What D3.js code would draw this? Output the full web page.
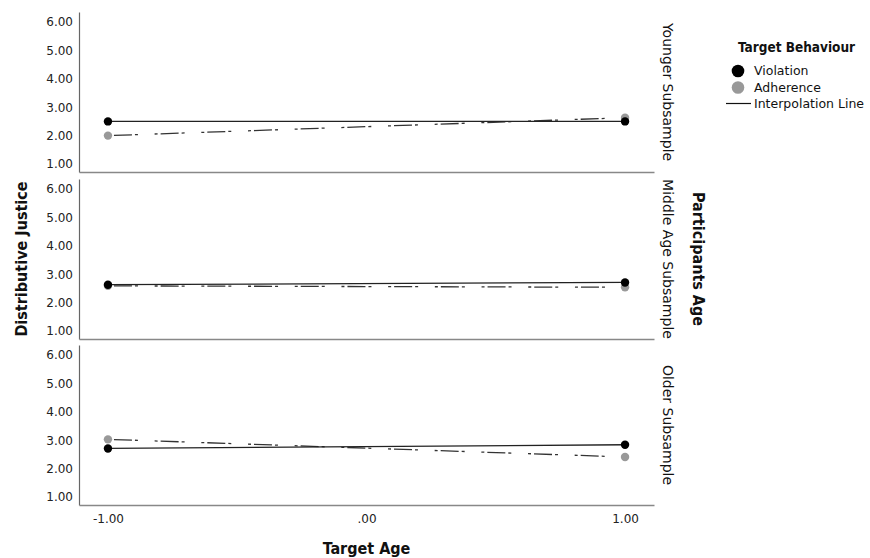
<!DOCTYPE html>
<html>
<head>
<meta charset="utf-8">
<script src="https://cdn.jsdelivr.net/npm/d3@7"></script>
<style>
    body { margin: 0; background: #fff; }
    svg { display: block; }
    .tick text { font-family: "DejaVu Sans", sans-serif; font-size: 12px; fill: #222; }
</style>
</head>
<body>
<div id="chart"></div>
<script>
'use strict';

// panel (row) labels
var panels = ["Younger Subsample", "Middle Age Subsample", "Older Subsample"];
// x values (Target Age)
var targetAge = [-1, 1];
// Distributive Justice means per panel, one entry per target age
var violation = [[2.50, 2.50], [2.63, 2.71], [2.71, 2.84]];
var adherence = [[2.00, 2.63], [2.59, 2.54], [3.03, 2.41]];
var yTicks = [1, 2, 3, 4, 5, 6];
var xTicks = [-1, 0, 1];

var width = 870, height = 558;
var left = 79, right = 654;
var panelTop = [12, 179, 345], panelH = 160;

var svg = d3.select("#chart")
    .append("svg")
    .attr("width", width)
    .attr("height", height);

var x = d3.scaleLinear()
    .domain([-1.112, 1.112])
    .range([left, right]);

// SPSS style labels: plain hyphen, no leading zero
var fmt = d3.formatLocale({decimal: ".", thousands: ",", grouping: [3], currency: ["", ""], minus: "-"}).format(".2f");
var xFmt = function(d) { return d === 0 ? ".00" : fmt(d); };

panels.forEach(function(name, i) {
    var top = panelTop[i], bottom = top + panelH;
    var y = d3.scaleLinear()
        .domain([0.72, 6.35])
        .range([bottom, top]);

    var g = svg.append("g").attr("class", "panel");

    var yAxis = g.append("g")
        .attr("transform", "translate(" + left + ",0)")
        .call(d3.axisLeft(y).tickValues(yTicks).tickFormat(fmt).tickSize(0).tickPadding(6));
    yAxis.select(".domain").attr("stroke", "#666").attr("stroke-width", 1.2);

    var xAxis = g.append("g")
        .attr("transform", "translate(0," + bottom + ")")
        .call(d3.axisBottom(x).tickValues(i === panels.length - 1 ? xTicks : []).tickFormat(xFmt).tickSize(0).tickPadding(9.5));
    xAxis.select(".domain").attr("stroke", "#888").attr("stroke-width", 1.4);

    var line = d3.line()
        .x(function(d, j) { return x(targetAge[j]); })
        .y(function(d) { return y(d); });

    g.append("path")
        .datum(adherence[i])
        .attr("fill", "none")
        .attr("stroke", "#333")
        .attr("stroke-width", 1.3)
        .attr("stroke-dasharray", "3,3,18,3,3,16.7")
        .attr("d", line);

    g.append("path")
        .datum(violation[i])
        .attr("fill", "none")
        .attr("stroke", "#222")
        .attr("stroke-width", 1.3)
        .attr("d", line);

    g.selectAll(".dot-adh")
        .data(adherence[i])
        .enter().append("circle")
        .attr("cx", function(d, j) { return x(targetAge[j]); })
        .attr("cy", function(d) { return y(d); })
        .attr("r", 4.2)
        .attr("fill", "#999");

    g.selectAll(".dot-vio")
        .data(violation[i])
        .enter().append("circle")
        .attr("cx", function(d, j) { return x(targetAge[j]); })
        .attr("cy", function(d) { return y(d); })
        .attr("r", 4.2)
        .attr("fill", "#000");

    // strip label
    g.append("text")
        .attr("transform", "translate(663," + (top + panelH / 2) + ") rotate(90)")
        .attr("text-anchor", "middle")
        .attr("font-family", "DejaVu Sans")
        .attr("font-size", 14)
        .attr("fill", "#111")
        .text(name);
});

// axis titles
svg.append("text")
    .attr("x", (left + right) / 2)
    .attr("y", 554)
    .attr("text-anchor", "middle")
    .attr("font-family", "DejaVu Sans Condensed")
    .attr("font-weight", "bold")
    .attr("font-size", 16)
    .attr("fill", "#111")
    .text("Target Age");

svg.append("text")
    .attr("transform", "translate(27,259) rotate(-90)")
    .attr("text-anchor", "middle")
    .attr("font-family", "DejaVu Sans Condensed")
    .attr("font-weight", "bold")
    .attr("font-size", 16)
    .attr("fill", "#111")
    .text("Distributive Justice");

svg.append("text")
    .attr("transform", "translate(693,259) rotate(90)")
    .attr("text-anchor", "middle")
    .attr("font-family", "DejaVu Sans Condensed")
    .attr("font-weight", "bold")
    .attr("font-size", 16)
    .attr("fill", "#111")
    .text("Participants Age");

// legend
var legend = svg.append("g").attr("font-family", "DejaVu Sans").attr("fill", "#111");

legend.append("text")
    .attr("x", 738)
    .attr("y", 52)
    .attr("font-family", "DejaVu Sans Condensed")
    .attr("font-weight", "bold")
    .attr("font-size", 13.5)
    .text("Target Behaviour");

var legendItems = [
    {label: "Violation", color: "#000", y: 71},
    {label: "Adherence", color: "#999", y: 87.5}
];
legendItems.forEach(function(d) {
    legend.append("circle")
        .attr("cx", 738).attr("cy", d.y).attr("r", 6.3)
        .attr("fill", d.color);
    legend.append("text")
        .attr("x", 754).attr("y", d.y).attr("dy", "0.35em")
        .attr("font-size", 12.5)
        .text(d.label);
});

legend.append("line")
    .attr("x1", 726).attr("x2", 751)
    .attr("y1", 103.5).attr("y2", 103.5)
    .attr("stroke", "#111").attr("stroke-width", 1.2);
legend.append("text")
    .attr("x", 754).attr("y", 103.5).attr("dy", "0.35em")
    .attr("font-size", 12.5)
    .text("Interpolation Line");
</script>
</body>
</html>
